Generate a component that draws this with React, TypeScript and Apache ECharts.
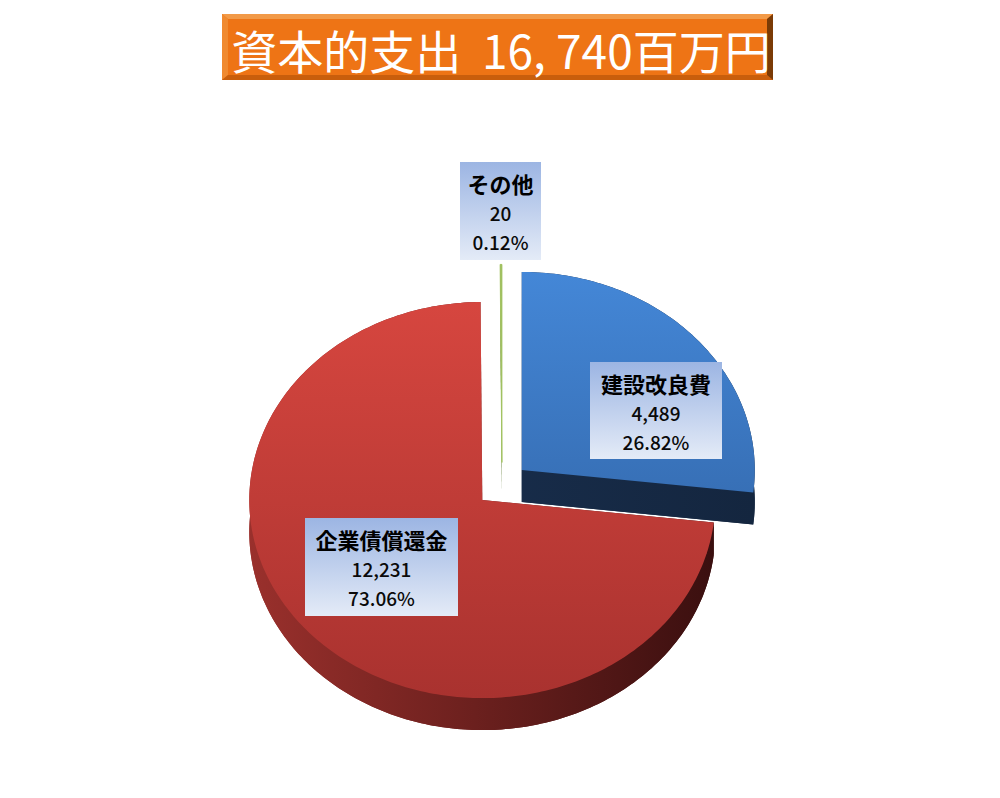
import { useEffect, useRef } from "react";
import * as echarts from "echarts";

// slices, clockwise from 12 o'clock
const categories = ["建設改良費", "企業債償還金", "その他"];
const values = [4489, 12231, 20];
const titleLabel = "資本的支出";
const titleUnit = "百万円";

const topColors = [
  ["#4487d7", "#2d5d9c"],
  ["#d6463f", "#a9322f"],
  ["#a4c463", "#8aa84c"],
];
const sideColors = [
  ["#1a3152", "#14263f"],
  ["#9a302c", "#3a0f0f"],
  ["#6b8a34", "#4c6424"],
];
// label boxes: x, y, w, h
const labelBoxes = [
  [590, 362, 132, 97],
  [305, 518, 153, 98],
  [460, 162, 81, 98],
];

const CX = 502;
const CY = 485;
const RX = 233;
const TILT = 0.85;
const DEPTH = 32;
const EXPLODE = 26.5;

const total = values.reduce((a, b) => a + b, 0);
const rad = (d: number) => (d * Math.PI) / 180;

function arc(cx: number, cy: number, a0: number, a1: number) {
  const n = Math.max(2, Math.ceil(Math.abs(a0 - a1)) + 1);
  const pts: number[][] = [];
  for (let k = 0; k < n; k++) {
    const a = a0 + ((a1 - a0) * k) / (n - 1);
    pts.push([cx + RX * Math.cos(rad(a)), cy - RX * TILT * Math.sin(rad(a))]);
  }
  return pts;
}

export default function App() {
  const ref = useRef<HTMLDivElement | null>(null);

  useEffect(() => {
    document.body.style.margin = "0";
    if (!ref.current) return;
    const chart = echarts.init(ref.current, undefined, { renderer: "svg" });

    const renderItem = (params: any, api: any) => {
      const i = params.dataIndex;
      const v = api.value(0);
      const before = values.slice(0, i).reduce((a, b) => a + b, 0);
      const s = 90 - (before / total) * 360;
      const e = s - (v / total) * 360;
      const mid = (s + e) / 2;
      const cx = CX + EXPLODE * Math.cos(rad(mid));
      const cy = CY - EXPLODE * TILT * Math.sin(rad(mid));

      const top = arc(cx, cy, s, e);
      const down = (p: number[]) => [p[0], p[1] + DEPTH];
      const bottom = top.map(down);
      const sideFill = new echarts.graphic.LinearGradient(
        cx - RX, 0, cx + RX, 0,
        [{ offset: 0, color: sideColors[i][0] }, { offset: 1, color: sideColors[i][1] }],
        true
      );
      const topFill = new echarts.graphic.LinearGradient(
        0, cy - RX * TILT, 0, cy + RX * TILT,
        [{ offset: 0, color: topColors[i][0] }, { offset: 1, color: topColors[i][1] }],
        true
      );
      const c = [cx, cy];
      const p0 = top[0];
      const p1 = top[top.length - 1];

      const [bx, by, bw, bh] = labelBoxes[i];
      const pct = ((v / total) * 100).toFixed(2) + "%";

      return {
        type: "group",
        children: [
          { type: "polygon", shape: { points: [down(c), ...bottom] }, style: { fill: sideFill } },
          { type: "polygon", shape: { points: [...top, ...bottom.slice().reverse()] }, style: { fill: sideFill } },
          { type: "polygon", shape: { points: [c, p0, down(p0), down(c)] }, style: { fill: sideFill } },
          { type: "polygon", shape: { points: [c, p1, down(p1), down(c)] }, style: { fill: sideFill } },
          {
            type: "polygon",
            shape: { points: [c, ...top] },
            style: { fill: topFill, stroke: i === 2 ? topColors[i][0] : "none", lineWidth: 1 },
          },
          {
            type: "rect",
            shape: { x: bx, y: by, width: bw, height: bh },
            style: {
              fill: new echarts.graphic.LinearGradient(0, 0, 0, 1, [
                { offset: 0, color: "#9cb5e3" },
                { offset: 1, color: "#e4ebf7" },
              ]),
            },
          },
          {
            type: "text",
            x: bx + bw / 2,
            y: by + bh / 2 + 1,
            style: {
              text: `{n|${categories[i]}}\n{v|${v.toLocaleString("en-US")}}\n{v|${pct}}`,
              align: "center",
              verticalAlign: "middle",
              rich: {
                n: {
                  fontFamily: "Noto Sans CJK JP",
                  fontWeight: "bold",
                  fontSize: 22,
                  lineHeight: 30,
                  fill: "#000",
                  align: "center",
                },
                v: {
                  fontFamily: "Noto Sans CJK JP",
                  fontWeight: 500,
                  fontSize: 19,
                  lineHeight: 29,
                  fill: "#0a0a0a",
                  align: "center",
                },
              },
            },
          },
        ],
      };
    };

    const titleText = `${titleLabel}  ${total.toLocaleString("en-US").replace(",", ", ")}${titleUnit}`;

    chart.setOption({
      animation: false,
      graphic: [
        { type: "rect", shape: { x: 222, y: 14, width: 551, height: 66 }, style: { fill: "#ee7415" } },
        { type: "polygon", shape: { points: [[222, 14], [773, 14], [767, 19], [228, 19]] }, style: { fill: "#f29a48" } },
        { type: "polygon", shape: { points: [[222, 14], [228, 19], [228, 75], [222, 80]] }, style: { fill: "#f08a30" } },
        { type: "polygon", shape: { points: [[222, 80], [773, 80], [767, 75], [228, 75]] }, style: { fill: "#c95e0c" } },
        { type: "polygon", shape: { points: [[773, 14], [773, 80], [767, 75], [767, 19]] }, style: { fill: "#7b3b06" } },
        {
          type: "text",
          x: 501,
          y: 49,
          style: {
            text: titleText,
            align: "center",
            verticalAlign: "middle",
            fontFamily: "Noto Sans CJK JP",
            fontWeight: "normal",
            fontSize: 46,
            fill: "#fff",
          },
        },
      ],
      series: [
        {
          type: "custom",
          coordinateSystem: "none",
          silent: true,
          renderItem,
          data: values.map((v, i) => ({ name: categories[i], value: [v] })),
        },
      ],
    });

    return () => chart.dispose();
  }, []);

  return <div ref={ref} style={{ width: 1000, height: 798 }} />;
}
